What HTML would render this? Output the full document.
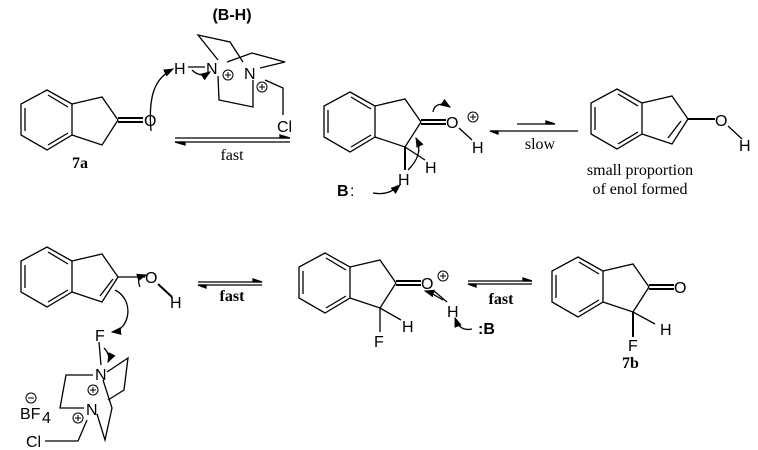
<!DOCTYPE html>
<html><head><style>
html,body{margin:0;padding:0;background:#fff}
svg{display:block}
text{font-family:"Liberation Sans",sans-serif;font-size:16px;fill:#000}
.s{font-family:"Liberation Serif",serif}
</style></head><body>
<svg width="758" height="450" viewBox="0 0 758 450" xmlns="http://www.w3.org/2000/svg">
<defs>
<g id="ind" stroke="#000" stroke-width="1.3" fill="none">
<polygon points="47,90 72,104 72,135 47,150 21,135 21,104"/>
<line x1="25" y1="108" x2="25" y2="131"/>
<line x1="48" y1="95" x2="68" y2="107"/>
<line x1="48" y1="145" x2="68" y2="133"/>
<polyline points="72,104 102,97 118,120"/>
<polyline points="72,135 102,145 118,120"/>
</g>
<marker id="ah" markerWidth="8" markerHeight="6" refX="7" refY="3" orient="auto"><path d="M0,0 L8,3 L0,6 z" fill="#000"/></marker>
</defs>
<g stroke="#000" stroke-width="1.3" fill="none">
<!-- 7a -->
<use href="#ind"/>
<line x1="118" y1="118" x2="143" y2="118" stroke-width="2"/>
<line x1="118" y1="122" x2="143" y2="122" stroke-width="2"/>
<!-- mol2 -->
<use href="#ind" transform="translate(303,2)"/>
<line x1="421" y1="120" x2="446" y2="120" stroke-width="2"/>
<line x1="421" y1="124" x2="446" y2="124" stroke-width="2"/>
<line x1="459" y1="128" x2="472" y2="140"/>
<line x1="405" y1="147" x2="405" y2="170" stroke-width="2"/>
<line x1="405" y1="147" x2="425" y2="160"/>
<!-- enol right -->
<use href="#ind" transform="translate(570,-1)"/>
<line x1="668" y1="138" x2="681" y2="121"/>
<line x1="688" y1="119" x2="715" y2="119" stroke-width="2"/>
<line x1="728" y1="126" x2="742" y2="139"/>
<!-- bottom enol -->
<use href="#ind" transform="translate(0,157)"/>
<line x1="100" y1="296" x2="113" y2="279"/>
<line x1="118" y1="277" x2="145" y2="277"/>
<line x1="158" y1="284" x2="172" y2="297" stroke-width="2"/>
<!-- bottom middle -->
<use href="#ind" transform="translate(278,163)"/>
<line x1="396" y1="281" x2="421" y2="281" stroke-width="2"/>
<line x1="396" y1="285" x2="421" y2="285" stroke-width="2"/>
<line x1="380" y1="308" x2="380" y2="332"/>
<line x1="380" y1="308" x2="401" y2="320"/>
<line x1="434" y1="291" x2="447" y2="302"/>
<!-- 7b -->
<use href="#ind" transform="translate(531,167)"/>
<line x1="649" y1="285" x2="674" y2="285" stroke-width="2"/>
<line x1="649" y1="289" x2="674" y2="289" stroke-width="2"/>
<line x1="633" y1="312" x2="633" y2="337" stroke-width="2"/>
<line x1="633" y1="312" x2="655" y2="324"/>
<!-- top DABCO -->
<polyline points="218,60 198,35 230,42 243,62"/>
<polyline points="227,62 252,53 285,62 260,68"/>
<polyline points="218,76 219,100 253,107 253,80"/>
<polyline points="265,80 283,88 283,115"/>
<line x1="188" y1="67" x2="205" y2="67"/>
<!-- bottom DABCO -->
<line x1="99" y1="342" x2="101" y2="365"/>
<polyline points="107,372 128,358 124,390 108,400"/>
<polyline points="93,375 66,375 60,408 84,408"/>
<polyline points="103,380 112,408 105,440 97,414"/>
<polyline points="45,441 78,441 87,420"/>
<!-- equilibrium arrows -->
<line x1="175" y1="138" x2="290" y2="138"/><path d="M280,135 L290,138 L280,138z" fill="#000"/>
<line x1="175" y1="142" x2="290" y2="142"/><path d="M185,145 L175,142 L185,142z" fill="#000"/>
<line x1="517" y1="124" x2="555" y2="124"/><path d="M546,121 L555,124 L546,124z" fill="#000"/>
<line x1="490" y1="131" x2="578" y2="131"/><path d="M498,134 L490,131 L498,131z" fill="#000"/>
<line x1="198" y1="282" x2="262" y2="282"/><path d="M253,279 L262,282 L253,282z" fill="#000"/>
<line x1="198" y1="285" x2="262" y2="285"/><path d="M206,288 L198,285 L206,285z" fill="#000"/>
<line x1="468" y1="281" x2="532" y2="281"/><path d="M523,278 L532,281 L523,281z" fill="#000"/>
<line x1="468" y1="284" x2="532" y2="284"/><path d="M476,287 L468,284 L476,284z" fill="#000"/>
<!-- curved arrows -->
<path d="M151,131 C148,95 155,78 173,69" marker-end="url(#ah)"/>
<path d="M192,70 C198,76 204,76 210,72" marker-end="url(#ah)"/>
<path d="M433,112 C434,104 442,102 450,107" marker-end="url(#ah)"/>
<path d="M408,170 C418,160 422,150 416,138" marker-end="url(#ah)"/>
<path d="M373,193 C385,195 392,192 400,185" marker-end="url(#ah)"/>
<path d="M140,287 C137,280 139,277 146,275" marker-end="url(#ah)"/>
<path d="M115,290 C135,300 130,330 112,332" marker-end="url(#ah)"/>
<path d="M104,348 C108,352 110,358 108,362" marker-end="url(#ah)"/>
<path d="M443,300 C436,296 432,293 425,291" marker-end="url(#ah)"/>
<path d="M472,329 C462,331 458,326 455,318" marker-end="url(#ah)"/>
</g>
<g stroke="#000" stroke-width="1" fill="none">
<circle cx="228" cy="75" r="5"/><circle cx="262" cy="87" r="5"/>
<circle cx="473" cy="117" r="5"/><circle cx="443" cy="276" r="5"/>
<circle cx="93" cy="390" r="5"/><circle cx="78" cy="418" r="5"/>
<circle cx="31" cy="398" r="5"/>
</g>
<g stroke="#000" stroke-width="1">
<path d="M225,75h6M228,72v6M259,87h6M262,84v6M470,117h6M473,114v6M440,276h6M443,273v6M90,390h6M93,387v6M75,418h6M78,415v6M28,398h6"/>
</g>
<text x="232" y="20" text-anchor="middle" font-weight="bold" font-size="17">(B-H)</text>
<text x="174" y="74">H</text>
<text x="206" y="74">N</text>
<text x="244" y="79">N</text>
<text x="277" y="132">Cl</text>
<text x="144" y="126">O</text>
<text x="72" y="168" class="s" font-weight="bold" font-size="17">7a</text>
<text x="232" y="160" class="s" text-anchor="middle" font-size="15">fast</text>
<text x="446" y="128">O</text>
<text x="472" y="153">H</text>
<text x="425" y="173">H</text>
<text x="398" y="185">H</text>
<text x="337" y="196" font-weight="bold" font-size="17">B</text><text x="350" y="196">:</text>
<text x="540" y="149" class="s" text-anchor="middle" font-size="17">slow</text>
<text x="715" y="126">O</text>
<text x="739" y="151">H</text>
<text x="640" y="175" class="s" text-anchor="middle" font-size="17">small proportion</text>
<text x="640" y="194" class="s" text-anchor="middle" font-size="17">of enol formed</text>
<text x="145" y="283">O</text>
<text x="170" y="308">H</text>
<text x="232" y="301" class="s" text-anchor="middle" font-weight="bold" font-size="15">fast</text>
<text x="95" y="341">F</text>
<text x="95" y="380">N</text>
<text x="86" y="415">N</text>
<text x="20" y="419">BF</text><text x="42" y="423" font-size="11">4</text>
<text x="26" y="447">Cl</text>
<text x="421" y="289">O</text>
<text x="447" y="317">H</text>
<text x="402" y="332">H</text>
<text x="374" y="347">F</text>
<text x="478" y="334" font-weight="bold" font-size="17">:B</text>
<text x="501" y="304" class="s" text-anchor="middle" font-weight="bold" font-size="15">fast</text>
<text x="674" y="293">O</text>
<text x="660" y="335">H</text>
<text x="628" y="351">F</text>
<text x="622" y="368" class="s" font-weight="bold" font-size="17">7b</text>
</svg>
</body></html>
